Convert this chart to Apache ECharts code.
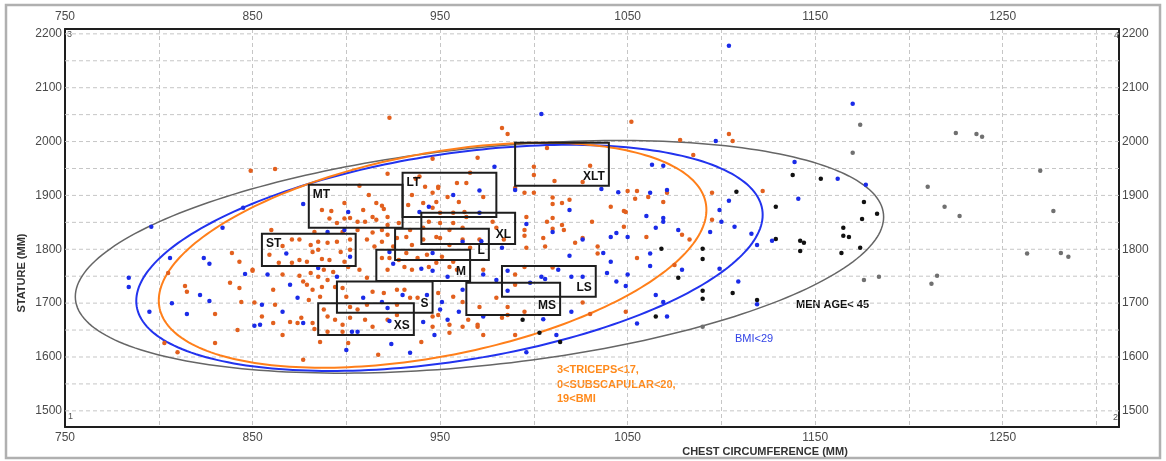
<!DOCTYPE html>
<html>
<head>
<meta charset="utf-8">
<script src="https://cdn.jsdelivr.net/npm/echarts@6/dist/echarts.min.js"></script>
<style>
html, body { margin: 0; padding: 0; background: #fff; }
#chart { width: 1166px; height: 461px; }
</style>
</head>
<body>
<div id="chart"></div>
<script>
// axis ticks
const xTickLabels = [750, 850, 950, 1050, 1150, 1250];
const yTickLabels = [1500, 1600, 1700, 1800, 1900, 2000, 2100, 2200];
const yGridLines = [1500, 1550, 1600, 1650, 1700, 1750, 1800, 1850, 1900, 1950, 2000, 2050, 2100, 2150, 2200];

// subjects: [chest circumference, stature] in mm
const orangePoints = [
  [923,2044],[1052,2037],[983,2025],[986,2014],[1078,2003],[1104,2014],[1106,2001],[1085,1975],[1007,1988],[970,1970],[946,1968],
  [1000,1953],[1030,1955],[1000,1938],[922,1940],[966,1942],[1011,1927],[1026,1925],[937,1931],[949,1914],[964,1923],[959,1923],
  [990,1914],[995,1905],[1000,1905],[1050,1908],[1055,1908],[1061,1897],[1071,1905],[1122,1908],[1095,1905],[1054,1894],[1069,1888],
  [1010,1896],[1019,1892],[1010,1884],[1015,1886],[1041,1879],[1048,1871],[1049,1869],[996,1860],[1010,1858],[1007,1851],[1095,1855],
  [1031,1851],[1015,1845],[1048,1842],[995,1836],[1010,1838],[1016,1836],[995,1825],[1079,1827],[1005,1821],[1060,1823],[1083,1818],
  [1026,1821],[1022,1812],[1006,1805],[1034,1805],[1034,1792],[1055,1784],[984,1818],[996,1803],[1075,1771],[990,1753],[1010,1766],
  [990,1734],[995,1767],
  [887,1873],[892,1871],[899,1886],[909,1873],[912,1901],[916,1886],[920,1875],[919,1881],[899,1857],[902,1858],[906,1851],[910,1851],
  [914,1860],[916,1855],[922,1860],[895,1849],[891,1857],[922,1845],[883,1832],[898,1832],[906,1836],[914,1831],[919,1836],[922,1827],
  [911,1818],[919,1814],[915,1805],
  [866,1806],[871,1818],[875,1818],[881,1808],[885,1814],[890,1812],[895,1814],[902,1818],[882,1795],[885,1799],[897,1795],[902,1799],
  [859,1790],[875,1780],[879,1777],[891,1780],[899,1777],[864,1775],[887,1782],
  [850,1762],[866,1753],[861,1725],[851,1701],[855,1675],[861,1663],[870,1665],[874,1663],[866,1641],
  [875,1751],[877,1740],[881,1756],[885,1749],[888,1762],[890,1743],[893,1758],[882,1725],[886,1712],[880,1706],[887,1730],[894,1730],
  [901,1767],[907,1762],[911,1747],
  [919,1784],[923,1784],[928,1780],[931,1767],[922,1762],[935,1762],[944,1767],[948,1775],[955,1767],[957,1777],[951,1786],[959,1762],
  [938,1784],[943,1790],
  [927,1821],[932,1823],[935,1808],[941,1818],[950,1821],[955,1808],[962,1818],[966,1803],[971,1818],[925,1805],[932,1793],
  [944,1851],[950,1849],[957,1849],[962,1840],[948,1823],[955,1836],[941,1840],[934,1836],[928,1849],[950,1868],[957,1868],[964,1860],
  [978,1851],[980,1840],
  [939,1935],[942,1916],[935,1901],[946,1905],[949,1916],[973,1897],[960,1888],[941,1886],[948,1888],[954,1897],[946,1877],[963,1869],
  [933,1882],
  [898,1728],[900,1712],[914,1721],[920,1719],[927,1725],[931,1725],[938,1710],[934,1710],[902,1693],[911,1697],[906,1688],[927,1697],
  [888,1688],[890,1675],[894,1669],[898,1660],[902,1673],[910,1669],[914,1656],[922,1669],[927,1678],[898,1647],[890,1647],
  [946,1675],[946,1656],[955,1660],[962,1702],[957,1712],[949,1719],[970,1656],[971,1693],[980,1710],[986,1693],[973,1762],
  [849,1946],[862,1949],[907,1918],[860,1836],[805,1756],[839,1793],[843,1777],[850,1760],[838,1738],[843,1728],[814,1732],[815,1721],
  [844,1702],[879,1734],[871,1775],
  [830,1680],[842,1650],[862,1697],[882,1663],[876,1673],
  [803,1626],[810,1609],[830,1626],[877,1595],[886,1628],[901,1626],[917,1604],[883,1652],
  [940,1628],[955,1645],[949,1678],[965,1669],[970,1660],[973,1641],[962,1656],[983,1673],[986,1678],[990,1641],[995,1684],[1030,1680],
  [1026,1701],[1049,1684]
];
const bluePoints = [
  [1004,2051],[1104,2178],[1097,2001],[1170,2070],[1139,1962],[1162,1931],[1177,1920],[1141,1894],[1127,1816],
  [979,1953],[1063,1957],[1069,1955],[971,1909],[990,1910],[1036,1912],[1045,1906],[1062,1905],[1071,1910],[1104,1890],[1019,1873],
  [1099,1873],[1060,1862],[1069,1858],[1069,1851],[1100,1851],[996,1847],[1065,1840],[1010,1832],[1077,1836],[1094,1832],[1107,1842],
  [1116,1829],[1041,1823],[1050,1823],[1044,1830],[1119,1808],[1026,1818],[1037,1793],[1019,1788],[1062,1792],[983,1803],[1041,1777],
  [1062,1769],[1079,1762],[1039,1756],[1050,1753],[1099,1764],[1109,1740],[1044,1740],[1049,1732],[1065,1715],[1069,1702],[1119,1698],
  [986,1760],[1004,1749],[1013,1762],[1020,1749],[1026,1749],[986,1723],[998,1738],[1006,1745],
  [877,1884],[901,1869],[890,1832],[899,1836],[868,1792],[902,1786],[858,1753],[855,1697],[854,1660],[866,1684],[877,1663],[870,1734],
  [885,1765],[874,1710],[895,1749],[923,1795],[925,1773],[940,1764],[946,1760],[954,1749],[946,1793],[972,1815],[962,1814],[939,1869],
  [971,1868],[944,1879],[957,1901],[909,1710],[919,1702],[930,1715],[943,1715],[922,1691],[906,1647],[941,1665],[947,1641],[960,1684],
  [951,1702],[962,1725],[973,1675],[980,1743],[973,1753],
  [796,1842],[845,1877],[834,1840],[806,1784],[784,1747],[784,1730],[824,1784],[827,1773],[846,1754],[822,1715],[827,1704],[807,1700],
  [795,1684],[815,1680],[851,1658],[900,1613],[903,1647],[924,1624],[923,1667],
  [934,1608],[954,1669],[950,1688],[1005,1670],[1012,1641],[996,1609],[1020,1684],[1055,1662],[1071,1675]
];
const blackPoints = [
  [1138,1938],[1153,1931],[1129,1879],[1176,1888],[1183,1866],[1175,1856],[1165,1840],[1165,1825],[1168,1823],[1129,1819],[1142,1816],
  [1144,1812],[1142,1797],[1164,1793],[1174,1803],[1108,1907],[1068,1801],[1090,1801],[1090,1782],[1077,1747],[1090,1723],[1106,1719],
  [1090,1708],[994,1669],[1003,1645],[1014,1628],[1065,1675],[1119,1706]
];
const grayPoints = [
  [1174,2031],[1170,1979],[1225,2016],[1236,2014],[1239,2009],[1176,1743],[1184,1749],[1210,1916],[1219,1879],[1227,1862],[1270,1946],
  [1277,1871],[1263,1792],[1281,1793],[1285,1786],[1215,1751],[1212,1736],[1090,1656]
];

// size boxes
const boxNames = ['XLT', 'MT', 'LT', 'XL', 'L', 'M', 'ST', 'LS', 'MS', 'S', 'XS'];
const boxChestMin = [990, 880, 930, 940, 926, 916, 855, 983, 964, 895, 885];
const boxChestMax = [1040, 930, 980, 990, 976, 966, 905, 1033, 1014, 946, 936];
const boxStatureMin = [1918, 1840, 1860, 1810, 1780, 1741, 1769, 1712, 1678, 1682, 1641];
const boxStatureMax = [1998, 1920, 1942, 1868, 1838, 1799, 1829, 1769, 1738, 1740, 1700];

// accommodation ellipses: men age<45, BMI<29, skinfold limits
const ellipseChest = [971, 955, 946];
const ellipseStature = [1786, 1784, 1789];
const ellipseHalfChest = [215.5, 167, 146];
const ellipseHalfStature = [216, 210, 209];
const ellipseTilt = [74, 80, 84];

const ellipseColors = ['#666666', '#2233ee', '#ff7f1a'];
const ellipseWidths = [1.5, 2, 2];
const topLeftBoxes = ['MT', 'LT', 'ST'];
const FONT = '"Liberation Sans", Arial, sans-serif';

const chart = echarts.init(document.getElementById('chart'), null, { renderer: 'canvas' });

const xLabel = (v) => (xTickLabels.includes(v) ? String(v) : '');
const yLabel = (v) => (yTickLabels.includes(v) ? String(v) : '');
const labelStyle = { color: '#4a4a4a', fontSize: 12, fontFamily: FONT };
const frameLine = { show: true, onZero: false, lineStyle: { color: '#1e1e1e', width: 2 } };

const xAxisBase = {
    type: 'value', min: 750, max: 1312, interval: 50,
    axisLine: frameLine, axisTick: { show: false },
};
const yAxisBase = {
    type: 'value', min: 1470, max: 2209, interval: 10,
    axisLine: frameLine, axisTick: { show: false }, splitLine: { show: false },
};

const pointSeries = (data, color) => ({
    type: 'scatter', data, symbol: 'circle', symbolSize: 4.5, z: 3,
    itemStyle: { color, opacity: 1 },
});

chart.setOption({
    animation: false,
    backgroundColor: '#fff',
    grid: { left: 65, right: 47, top: 29, bottom: 34, outerBoundsMode: 'none' },
    xAxis: [
        {
            ...xAxisBase, position: 'bottom',
            axisLabel: { ...labelStyle, margin: 5, formatter: xLabel },
            splitLine: { show: true, lineStyle: { color: '#c6c6c6', type: [4, 3], width: 1 } },
        },
        {
            ...xAxisBase, position: 'top',
            axisLabel: { ...labelStyle, margin: 6, formatter: xLabel },
            splitLine: { show: false },
        },
    ],
    yAxis: [
        { ...yAxisBase, position: 'left', axisLabel: { ...labelStyle, margin: 3, formatter: yLabel } },
        { ...yAxisBase, position: 'right', axisLabel: { ...labelStyle, margin: 3, formatter: yLabel } },
    ],
    series: [
        {
            // horizontal dashed grid lines every 50 mm
            type: 'custom', z: 1, silent: true,
            data: yGridLines.map((v) => [v]),
            renderItem: (params, api) => {
                const cs = params.coordSys;
                const y = api.coord([750, api.value(0)])[1];
                return {
                    type: 'line',
                    shape: { x1: cs.x, y1: y, x2: cs.x + cs.width, y2: y },
                    style: { stroke: '#c6c6c6', lineWidth: 1, lineDash: [4, 3] },
                };
            },
        },
        {
            type: 'custom', z: 2, silent: true, clip: true,
            data: ellipseChest.map((c, i) => [c, ellipseStature[i], ellipseHalfChest[i], ellipseHalfStature[i], ellipseTilt[i]]),
            renderItem: (params, api) => {
                const cx = api.value(0), cy = api.value(1);
                const rx = api.value(2), ry = api.value(3), dy = api.value(4);
                const vy = Math.sqrt(ry * ry - dy * dy);
                const pts = [];
                for (let k = 0; k <= 240; k++) {
                    const t = (k / 240) * Math.PI * 2;
                    pts.push(api.coord([cx + rx * Math.cos(t), cy + dy * Math.cos(t) + vy * Math.sin(t)]));
                }
                return {
                    type: 'polyline',
                    shape: { points: pts },
                    style: { fill: null, stroke: ellipseColors[params.dataIndex], lineWidth: ellipseWidths[params.dataIndex] },
                };
            },
        },
        pointSeries(grayPoints, '#707070'),
        pointSeries(blackPoints, '#111111'),
        pointSeries(orangePoints, '#e2601e'),
        pointSeries(bluePoints, '#1a2be8'),
        {
            type: 'custom', z: 4, silent: true,
            data: boxNames.map((n, i) => [boxChestMin[i], boxChestMax[i], boxStatureMin[i], boxStatureMax[i]]),
            renderItem: (params, api) => {
                const p0 = api.coord([api.value(0), api.value(3)]);
                const p1 = api.coord([api.value(1), api.value(2)]);
                const name = boxNames[params.dataIndex];
                const tl = topLeftBoxes.includes(name);
                return {
                    type: 'group',
                    children: [
                        {
                            type: 'rect',
                            shape: { x: p0[0], y: p0[1], width: p1[0] - p0[0], height: p1[1] - p0[1] },
                            style: { fill: null, stroke: '#1e1e1e', lineWidth: 2 },
                        },
                        {
                            type: 'text',
                            x: tl ? p0[0] + 4 : p1[0] - 4,
                            y: tl ? p0[1] + 4 : p1[1] - 3,
                            style: {
                                text: name, fill: '#111', font: 'bold 12px ' + FONT,
                                align: tl ? 'left' : 'right', verticalAlign: tl ? 'top' : 'bottom',
                            },
                        },
                    ],
                };
            },
        },
    ],
    graphic: [
        { type: 'rect', silent: true, shape: { x: 6, y: 5, width: 1154, height: 453 }, style: { fill: null, stroke: '#b0b0b0', lineWidth: 2.5 } },
        {
            type: 'text', x: 22, y: 273, rotation: Math.PI / 2,
            style: { text: 'STATURE (MM)', font: 'bold 11px ' + FONT, fill: '#333', align: 'center', verticalAlign: 'middle' },
        },
        {
            type: 'text', x: 765, y: 452,
            style: { text: 'CHEST CIRCUMFERENCE (MM)', font: 'bold 11px ' + FONT, fill: '#333', align: 'center', verticalAlign: 'middle' },
        },
        {
            type: 'text', x: 796, y: 305,
            style: { text: 'MEN AGE< 45', font: 'bold 11px ' + FONT, fill: '#111', align: 'left', verticalAlign: 'middle' },
        },
        {
            type: 'text', x: 735, y: 339,
            style: { text: 'BMI<29', font: '11px ' + FONT, fill: '#3344e6', align: 'left', verticalAlign: 'middle' },
        },
        {
            type: 'text', x: 557, y: 363,
            style: {
                text: '3<TRICEPS<17,\n0<SUBSCAPULAR<20,\n19<BMI', font: 'bold 11px ' + FONT, lineHeight: 14.5,
                fill: '#ff8a1c', align: 'left', verticalAlign: 'top',
            },
        },
        { type: 'text', x: 67, y: 35, style: { text: '3', font: '9px ' + FONT, fill: '#555', verticalAlign: 'middle' } },
        { type: 'text', x: 1114, y: 36, style: { text: '4', font: '9px ' + FONT, fill: '#555', verticalAlign: 'middle' } },
        { type: 'text', x: 68, y: 417, style: { text: '1', font: '9px ' + FONT, fill: '#555', verticalAlign: 'middle' } },
        { type: 'text', x: 1113, y: 418, style: { text: '2', font: '9px ' + FONT, fill: '#555', verticalAlign: 'middle' } },
    ],
});

window.addEventListener('resize', chart.resize);
</script>
</body>
</html>
